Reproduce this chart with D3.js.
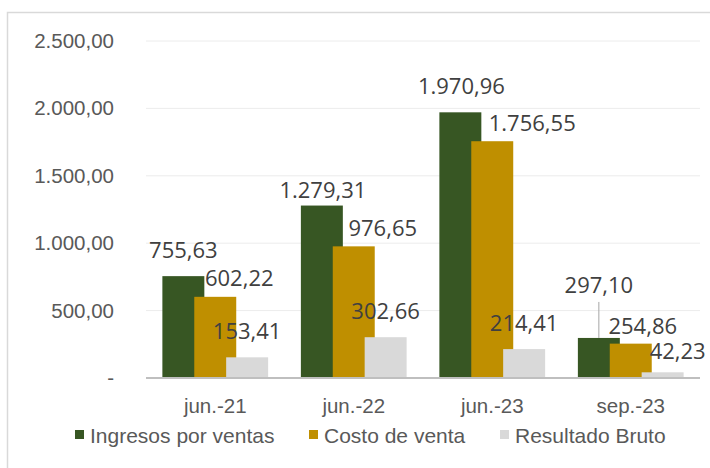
<!DOCTYPE html>
<html>
<head>
<meta charset="utf-8">
<script src="https://cdn.jsdelivr.net/npm/d3@7"></script>
<style>
  body { margin: 0; background: #fff; }
  svg { display: block; }
</style>
</head>
<body>
<div id="chart"></div>
<script>
// Data
const categories = ["jun.-21", "jun.-22", "jun.-23", "sep.-23"];
const seriesNames = ["Ingresos por ventas", "Costo de venta", "Resultado Bruto"];
const ingresos = [755.63, 1279.31, 1970.96, 297.10];
const costo = [602.22, 976.65, 1756.55, 254.86];
const resultado = [153.41, 302.66, 214.41, 42.23];
const yTicks = [0, 500, 1000, 1500, 2000, 2500];
const colors = ["#375623", "#bf8f00", "#d9d9d9"];

// hand-placed label nudges (dx, baseline above bar top), like in the original
const labelNudge = [
  [[0, 18], [1, 8], [1, 18], [0, 45]],
  [[24, 11], [29, 10], [40, 10], [12, 10]],
  [[0, 18], [0, 18], [0, 18], [15, 13]]
];

const W = 710, H = 468;
const plot = { left: 146, right: 700, top: 41, bottom: 378 };

const svg = d3.select("#chart").append("svg")
  .attr("width", W)
  .attr("height", H);

// chart frame
svg.append("rect")
  .attr("x", 7.5).attr("y", 12.5)
  .attr("width", 800).attr("height", 600)
  .attr("fill", "none")
  .attr("stroke", "#d9d9d9")
  .attr("stroke-width", 1.5);

const x = d3.scaleBand()
  .domain(categories)
  .range([plot.left, plot.right]);

const y = d3.scaleLinear()
  .domain([0, 2500])
  .range([plot.bottom, plot.top]);

const fmt = d3.formatLocale({ decimal: ",", thousands: ".", grouping: [3], currency: ["", ""] }).format(",.2f");

// gridlines
svg.append("g")
  .selectAll("line")
  .data(yTicks.filter(d => d > 0))
  .enter()
  .append("line")
  .attr("x1", plot.left).attr("x2", plot.right)
  .attr("y1", d => y(d)).attr("y2", d => y(d))
  .attr("stroke", "#ececec")
  .attr("stroke-width", 1);

// y axis labels
const yAxis = d3.axisLeft(y)
  .tickValues(yTicks)
  .tickSize(0)
  .tickPadding(0)
  .tickFormat(d => d === 0 ? "-" : fmt(d));

svg.append("g")
  .attr("transform", "translate(114,0)")
  .call(yAxis)
  .call(g => g.select(".domain").remove())
  .selectAll("text")
  .attr("font-family", "Liberation Sans, Arial, sans-serif")
  .attr("font-size", 20.5)
  .attr("fill", "#595959");

// bars
const series = [ingresos, costo, resultado];
const barW = x.bandwidth() * 0.303;
const step = barW * 0.76;
const groupW = step * 2 + barW;
const barX = (ci, si) => x(categories[ci]) + (x.bandwidth() - groupW) / 2 + si * step;

series.forEach((vals, si) => {
  svg.append("g")
    .selectAll("rect")
    .data(vals)
    .enter()
    .append("rect")
    .attr("x", (d, i) => barX(i, si))
    .attr("y", d => y(d))
    .attr("width", barW)
    .attr("height", d => y(0) - y(d))
    .attr("fill", colors[si]);
});

// x axis line
svg.append("line")
  .attr("x1", plot.left).attr("x2", plot.right)
  .attr("y1", y(0)).attr("y2", y(0))
  .attr("stroke", "#bfbfbf")
  .attr("stroke-width", 2);

// x axis labels
const xAxis = d3.axisBottom(x).tickSize(0).tickPadding(0);
svg.append("g")
  .attr("transform", `translate(0,${y(0) + 20})`)
  .call(xAxis)
  .call(g => g.select(".domain").remove())
  .selectAll("text")
  .attr("font-family", "Liberation Sans, Arial, sans-serif")
  .attr("font-size", 20.5)
  .attr("fill", "#595959");

// leader line for the moved sep.-23 label
svg.append("line")
  .attr("x1", barX(3, 0) + barW / 2).attr("x2", barX(3, 0) + barW / 2)
  .attr("y1", y(ingresos[3]) - labelNudge[0][3][1] + 9)
  .attr("y2", y(ingresos[3]))
  .attr("stroke", "#a6a6a6")
  .attr("stroke-width", 1);

// data labels
series.forEach((vals, si) => {
  svg.append("g")
    .selectAll("text")
    .data(vals)
    .enter()
    .append("text")
    .attr("x", (d, i) => barX(i, si) + barW / 2 + labelNudge[si][i][0])
    .attr("y", (d, i) => y(d) - labelNudge[si][i][1])
    .attr("text-anchor", "middle")
    .attr("font-family", "Open Sans, Noto Sans, sans-serif")
    .attr("font-size", 22)
    .attr("fill", "#404040")
    .text(d => fmt(d));
});

// legend
const legendX = [75, 309, 500];
const legend = svg.append("g");
seriesNames.forEach((name, i) => {
  legend.append("rect")
    .attr("x", legendX[i]).attr("y", 430)
    .attr("width", 9).attr("height", 9)
    .attr("fill", colors[i]);
  legend.append("text")
    .attr("x", legendX[i] + 15).attr("y", 443)
    .attr("font-family", "Liberation Sans, Arial, sans-serif")
    .attr("font-size", 21)
    .attr("fill", "#595959")
    .text(name);
});
</script>
</body>
</html>
